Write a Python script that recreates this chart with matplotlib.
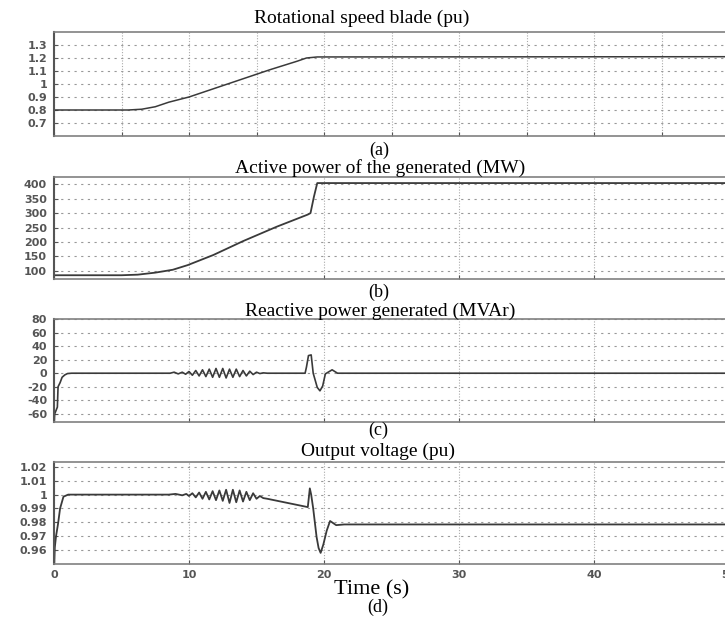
import matplotlib
matplotlib.use("Agg")
import matplotlib.pyplot as plt

# (a) rotational speed of the blade (pu)
t_speed = [0, 5.5, 6.5, 7.5, 8.5, 10, 12, 14, 16, 18, 18.7, 19.5, 50]
speed = [0.8, 0.8, 0.806, 0.825, 0.86, 0.9, 0.97, 1.04, 1.11, 1.175, 1.2, 1.208, 1.21]

# (b) active power (MW)
t_power = [0, 5, 6.2, 7.5, 8.8, 9.9, 11.8, 14, 16.5, 18.8, 19.0, 19.25, 19.5, 20, 50]
power = [85, 85, 87, 94, 104, 120, 155, 203, 253, 295, 300, 356, 404, 404, 404]

# (c) reactive power (MVAr)
t_q = [0.02, 0.05, 0.15, 0.25, 0.3, 0.45, 0.6, 0.8, 1.0, 1.3,
       8.6, 8.9, 9.2, 9.5, 9.75, 10.0, 10.25, 10.5, 10.75, 11.0, 11.25, 11.5,
       11.75, 12.0, 12.25, 12.5, 12.75, 13.0, 13.25, 13.5, 13.75, 14.0, 14.25,
       14.5, 14.75, 15.0, 15.25, 15.5, 15.8,
       18.6, 18.7, 18.85, 19.05, 19.2, 19.5, 19.7, 19.9, 20.1, 20.6, 21.0, 50]
q = [-72, -60, -55, -50, -20, -14, -6, -2.5, -0.5, 0,
     0, 1.5, -1, 1.5, -1.5, 2.5, -3, 4, -4, 5, -5, 6,
     -6, 7, -6, 7, -7, 6, -6, 6, -5, 4, -4,
     3, -2, 1.5, -0.5, 0.5, 0,
     0, 9, 26, 27, 0, -21, -26, -19, -1, 5, 0, 0]

# (d) output voltage (pu)
t_v = [0.02, 0.06, 0.15, 0.3, 0.45, 0.7, 1.05, 1.5,
       8.5, 9.0, 9.5, 9.8, 10.0, 10.25, 10.5, 10.75, 11.0, 11.25, 11.5, 11.75,
       12.0, 12.25, 12.5, 12.75, 13.0, 13.25, 13.5, 13.75, 14.0, 14.25, 14.5,
       14.75, 15.0, 15.25, 15.5, 15.8,
       18.8, 18.95, 19.05, 19.2, 19.45, 19.6, 19.75, 19.95, 20.2, 20.45, 20.9, 21.5, 50]
v = [0.95, 0.962, 0.97, 0.979, 0.99, 0.9985, 1.0, 1.0,
     1.0, 1.0005, 0.9995, 1.0005, 0.999, 1.001, 0.998, 1.0015, 0.997, 1.002, 0.9965, 1.0025,
     0.996, 1.003, 0.9955, 1.0035, 0.994, 1.0035, 0.9945, 1.003, 0.995, 1.002, 0.996,
     1.001, 0.997, 0.999, 0.9975, 0.997,
     0.991, 1.0045, 1.0, 0.99, 0.9695, 0.9615, 0.958, 0.964, 0.974, 0.981, 0.978, 0.9785, 0.9785]

yticks_a = [0.7, 0.8, 0.9, 1.0, 1.1, 1.2, 1.3]
ylabels_a = ["0.7", "0.8", "0.9", "1", "1.1", "1.2", "1.3"]
yticks_b = [100, 150, 200, 250, 300, 350, 400]
yticks_c = [-60, -40, -20, 0, 20, 40, 60, 80]
yticks_d = [0.96, 0.97, 0.98, 0.99, 1.0, 1.01, 1.02]
ylabels_d = ["0.96", "0.97", "0.98", "0.99", "1", "1.01", "1.02"]
xticks = [0, 10, 20, 30, 40, 50]

W, H = 725, 617
fig = plt.figure(figsize=(W / 100, H / 100), dpi=100)

serif = "Liberation Serif"
tick_font = dict(fontfamily="DejaVu Sans", fontweight="bold", fontsize=8, color="#555555")
line_col = "#3a3a3a"


def make_axes(top, bottom):
    left = 54
    right = 729
    ax = fig.add_axes([left / W, 1 - bottom / H, (right - left) / W, (bottom - top) / H])
    ax.set_xlim(0, 50)
    for s in ["top", "bottom"]:
        ax.spines[s].set_color("#808080")
        ax.spines[s].set_linewidth(1.2)
    ax.spines["left"].set_color("#555555")
    ax.spines["left"].set_linewidth(1.5)
    ax.spines["right"].set_visible(False)
    ax.tick_params(direction="in", length=3, color="#555555", pad=5)
    ax.yaxis.grid(True, linestyle=(0, (2, 4)), color="#999999", linewidth=0.8)
    ax.xaxis.grid(True, linestyle=(0, (1, 1.5)), color="#aaaaaa", linewidth=0.8)
    ax.set_axisbelow(True)
    return ax


def style_ticks(ax, yt, yl):
    ax.set_yticks(yt)
    ax.set_yticklabels(yl, **tick_font)


# (a)
ax1 = make_axes(32, 136)
ax1.plot(t_speed, speed, color=line_col, lw=1.1)
ax1.set_ylim(0.6, 1.4)
ax1.set_xticks([0, 5, 10, 15, 20, 25, 30, 35, 40, 45, 50])
ax1.set_xticklabels([])
style_ticks(ax1, yticks_a, ylabels_a)

# (b)
ax2 = make_axes(177, 279)
ax2.plot(t_power, power, color=line_col, lw=1.3)
ax2.set_ylim(72, 425)
ax2.set_xticks(xticks)
ax2.set_xticklabels([])
style_ticks(ax2, yticks_b, [str(y) for y in yticks_b])

# (c)
ax3 = make_axes(319, 422)
ax3.plot(t_q, q, color=line_col, lw=1.2)
ax3.set_ylim(-72, 80)
ax3.set_xticks(xticks)
ax3.set_xticklabels([])
style_ticks(ax3, yticks_c, [str(y) for y in yticks_c])

# (d)
ax4 = make_axes(462, 564)
ax4.plot(t_v, v, color=line_col, lw=1.3)
ax4.set_ylim(0.95, 1.0235)
ax4.set_xticks(xticks)
ax4.set_xticklabels([str(x) for x in xticks], **tick_font)
ax4.tick_params(axis="x", pad=4)
style_ticks(ax4, yticks_d, ylabels_d)


def ftext(x, y, s, size=14):
    fig.text(x / W, 1 - y / H, s, ha="center", va="baseline", fontfamily=serif,
             fontsize=size, color="black")


ftext(362, 23, "Rotational speed blade (pu)")
ftext(379, 155, "(a)", size=13)
ftext(380, 173, "Active power of the generated (MW)")
ftext(379, 297, "(b)", size=13)
ftext(380, 316, "Reactive power generated (MVAr)")
ftext(378, 435, "(c)", size=13)
ftext(378, 456, "Output voltage (pu)")
ftext(372, 594, "Time (s)", size=16)
ftext(378, 612, "(d)", size=13)

fig.savefig("out.png", dpi=100)
